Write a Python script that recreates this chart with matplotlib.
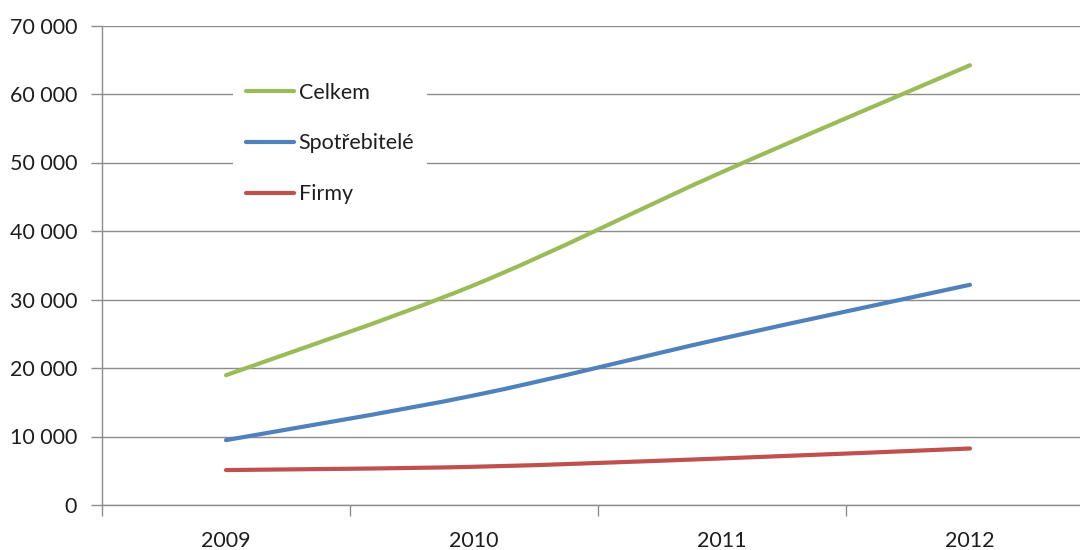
import numpy as np
import matplotlib
matplotlib.use('Agg')
import matplotlib.pyplot as plt
from matplotlib.path import Path
from matplotlib.patches import PathPatch
from matplotlib.lines import Line2D
from matplotlib.ticker import FuncFormatter

plt.rcParams['font.family'] = ['Lato', 'DejaVu Sans']

years = ['2009', '2010', '2011', '2012']
celkem = [18950, 32100, 48600, 64200]
spotrebitele = [9470, 16000, 24300, 32150]
firmy = [5100, 5580, 6800, 8250]

series = [
    ('Celkem', celkem, '#9BBB59'),
    ('Spotřebitelé', spotrebitele, '#4F81BD'),
    ('Firmy', firmy, '#C0504D'),
]

GRID = '#8c8c8c'
TEXT = '#1e1e1e'
FS = 15.5


def smooth_path(x, y):
    # office-style smoothed line: cubic bezier through every point
    pts = np.column_stack([x, y]).astype(float)
    padded = np.vstack([pts[0], pts, pts[-1]])
    verts = [pts[0]]
    codes = [Path.MOVETO]
    for i in range(len(pts) - 1):
        p0, p1, p2, p3 = padded[i], padded[i + 1], padded[i + 2], padded[i + 3]
        c1 = p1 + (p2 - p0) / 6.0
        c2 = p2 - (p3 - p1) / 6.0
        verts += [c1, c2, p2]
        codes += [Path.CURVE4] * 3
    return Path(verts, codes)


fig = plt.figure(figsize=(10.8, 5.5), dpi=100)
ax = fig.add_axes([102 / 1080, 45 / 550, 992 / 1080, 479.5 / 550])

x = np.arange(len(years))
handles = []
for name, vals, color in series:
    patch = PathPatch(smooth_path(x, vals), facecolor='none', edgecolor=color,
                      lw=3.0, capstyle='round', joinstyle='round', zorder=3)
    ax.add_patch(patch)
    handles.append(Line2D([], [], color=color, lw=3.0, solid_capstyle='round', label=name))

ax.set_xlim(-0.5, len(years) - 0.5)
ax.set_ylim(0, 70000)
ax.set_yticks(np.arange(0, 70001, 10000))
ax.yaxis.set_major_formatter(FuncFormatter(lambda v, p: f'{int(v):,}'.replace(',', ' ')))
ax.grid(axis='y', color=GRID, lw=1.0)
ax.set_axisbelow(True)

# category boundaries carry the tick marks, labels sit between them
ax.set_xticks(np.arange(-0.5, len(years), 1.0))
ax.set_xticklabels([])
ax.set_xticks(x, minor=True)
ax.set_xticklabels(years, minor=True)
ax.tick_params(axis='x', which='major', length=8, width=1.0, color=GRID)
ax.tick_params(axis='x', which='minor', length=0, pad=18.5, labelsize=FS, labelcolor=TEXT)
ax.tick_params(axis='y', length=8, width=1.0, color=GRID, pad=10, labelsize=FS, labelcolor=TEXT)

for side in ['top', 'right']:
    ax.spines[side].set_visible(False)
for side in ['left', 'bottom']:
    ax.spines[side].set_color(GRID)
    ax.spines[side].set_linewidth(1.0)

leg = fig.legend(handles=handles, loc='upper left', bbox_to_anchor=(233 / 1080, 1 - 70 / 550),
                 fontsize=FS, frameon=True, fancybox=False, handlelength=2.25,
                 handletextpad=0.2, labelspacing=1.42, borderpad=0.6, borderaxespad=0)
leg.get_frame().set_facecolor('white')
leg.get_frame().set_edgecolor('none')
leg.get_frame().set_alpha(1.0)
for t in leg.get_texts():
    t.set_color(TEXT)

fig.savefig('out.png', dpi=100, facecolor='white')
